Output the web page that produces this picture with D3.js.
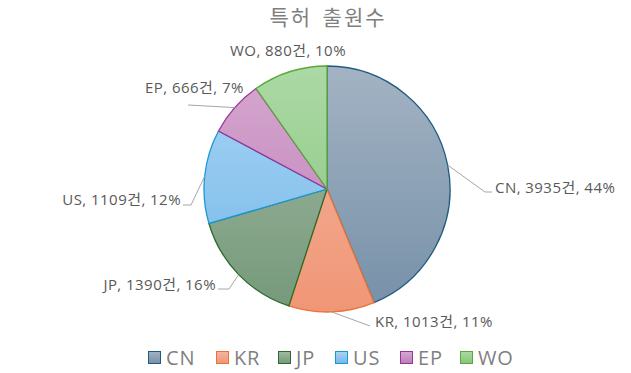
<!DOCTYPE html>
<html><head><meta charset="utf-8">
<script src="https://cdn.jsdelivr.net/npm/d3@7"></script>
<style>body{margin:0;background:#fff;} text{font-family:"Open Sans","Noto Sans CJK KR",sans-serif;}</style>
</head><body>
<svg id="c" width="631" height="373"></svg>
<script>
const categories = ["CN","KR","JP","US","EP","WO"];
const values = [3935,1013,1390,1109,666,880];
const percents = ["44%","11%","16%","12%","7%","10%"];
const unit = "건";
const title = "특허 출원수";

// styling (not data)
const topColors = ["#a3b3c3","#f5b6a0","#a3b9a3","#a8d4f5","#d6a8d0","#acd9a5"];
const botColors = ["#7690a8","#f09676","#75997a","#74b8e8","#bd7cb5","#86c47c"];
const strokes = ["#1f5c80","#e8743b","#2a6b2a","#1a98d5","#993399","#5aa83a"];
// label text positions and leader elbows
const labelCfg = [
  {tx:495, ty:193, anchor:"start", pts:[[485,192],[492,192]]},
  {tx:375, ty:327, anchor:"start", pts:[[370,326]]},
  {tx:216, ty:290, anchor:"end", pts:[[229,289],[218,289]]},
  {tx:181, ty:205, anchor:"end", pts:[[191,205],[183,205]]},
  {tx:145, ty:93, anchor:"start", pts:[[188,105]]},
  {tx:288, ty:56, anchor:"middle", pts:null}
];

const svg = d3.select("#c");
const cx = 327, cy = 189, r = 123;

const defs = svg.append("defs");
categories.forEach((c,i)=>{
  const g = defs.append("linearGradient").attr("id","g"+i)
    .attr("gradientUnits","userSpaceOnUse")
    .attr("x1",0).attr("y1",-r).attr("x2",0).attr("y2",r);
  g.append("stop").attr("offset","0%").attr("stop-color",topColors[i]);
  g.append("stop").attr("offset","100%").attr("stop-color",botColors[i]);
  const g2 = defs.append("linearGradient").attr("id","l"+i)
    .attr("x1",0).attr("y1",0).attr("x2",0).attr("y2",1);
  g2.append("stop").attr("offset","0%").attr("stop-color",topColors[i]);
  g2.append("stop").attr("offset","100%").attr("stop-color",botColors[i]);
});

svg.append("text").attr("x",328).attr("y",25).attr("text-anchor","middle")
  .attr("font-family","Noto Sans CJK KR")
  .attr("font-size",21).attr("letter-spacing",2).attr("word-spacing",3)
  .attr("fill","#7f7f7f").text(title);

const pie = d3.pie().sort(null).value(d=>d)(values);
const arc = d3.arc().innerRadius(0).outerRadius(r);
const gp = svg.append("g").attr("transform",`translate(${cx},${cy})`);
gp.selectAll("path.s").data(pie).join("path").attr("class","s")
  .attr("d",arc)
  .attr("fill",(d,i)=>"url(#g"+i+")")
  .attr("stroke",(d,i)=>strokes[i]).attr("stroke-width",1.3);

const lg = svg.append("g");
pie.forEach((d,i)=>{
  const cfg = labelCfg[i];
  const mid = (d.startAngle+d.endAngle)/2;
  const ex = cx + r*Math.sin(mid), ey = cy - r*Math.cos(mid);
  if (cfg.pts){
    const pts = [[ex,ey]].concat(cfg.pts);
    lg.append("path").attr("d",d3.line()(pts)).attr("fill","none")
      .attr("stroke","#a6a6a6").attr("stroke-width",1);
  }
  lg.append("text").attr("x",cfg.tx).attr("y",cfg.ty).attr("text-anchor",cfg.anchor)
    .attr("font-size",15).attr("letter-spacing",0.45).attr("fill","#595959")
    .text(`${categories[i]}, ${values[i]}${unit}, ${percents[i]}`);
});

// legend
const legX = [148,216,278,335,400,460];
const leg = svg.append("g");
categories.forEach((c,i)=>{
  leg.append("rect").attr("x",legX[i]+0.5).attr("y",351.5).attr("width",12).attr("height",12)
    .attr("fill","url(#l"+i+")").attr("stroke",strokes[i]).attr("stroke-width",1);
  leg.append("text").attr("x",legX[i]+18).attr("y",364.5).attr("font-size",20)
    .attr("letter-spacing",0.8).attr("fill","#7f7f7f").text(c);
});
</script>
</body></html>
